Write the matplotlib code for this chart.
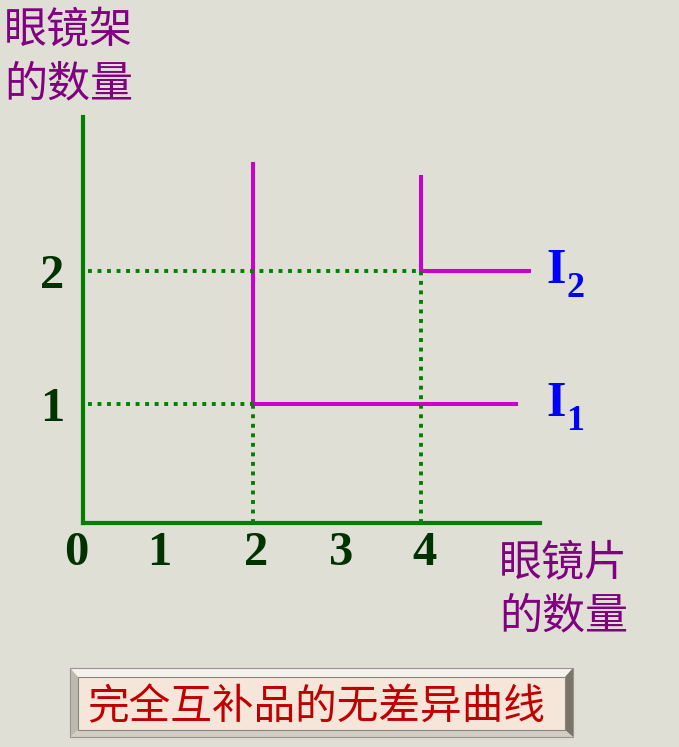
import matplotlib.pyplot as plt
from matplotlib.patches import Polygon, Rectangle

plt.rcParams['font.family'] = ['Noto Sans CJK SC', 'DejaVu Sans']

# 数据: 完全互补品 (眼镜片, 眼镜架)
x_ticks = [0, 1, 2, 3, 4]
y_ticks = [1, 2]
corner_x = [2, 4]          # 拐点处眼镜片数量
corner_y = [1, 2]          # 拐点处眼镜架数量
curve_top = [2.81, 2.71]   # 竖线上端
curve_right = [5.14, 5.29] # 横线右端
curve_subs = ['1', '2']

bg = '#DFDFD5'
green = '#008000'
tick_color = '#003300'
magenta = '#CC00CC'
purple = '#800080'

fig = plt.figure(figsize=(6.79, 7.47), dpi=100, facecolor=bg)

# 底部的立体框 (像素坐标)
ov = fig.add_axes([0, 0, 1, 1], zorder=-1)
ov.set_xlim(0, 679)
ov.set_ylim(747, 0)
ov.axis('off')
x0, x1, y0, y1 = 70, 573, 668, 737
i0, i1, j0, j1 = 78, 565, 677, 730
ov.add_patch(Polygon([(x0, y0), (x1, y0), (i1, j0), (i0, j0)], color='#F4F2EC', lw=0))
ov.add_patch(Polygon([(x0, y0), (i0, j0), (i0, j1), (x0, y1)], color='#BEB9AF', lw=0))
ov.add_patch(Polygon([(x1, y0), (x1, y1), (i1, j1), (i1, j0)], color='#7A746A', lw=0))
ov.add_patch(Polygon([(x0, y1), (i0, j1), (i1, j1), (x1, y1)], color='#D2CEC5', lw=0))
ov.add_patch(Rectangle((x0, y0), x1 - x0, y1 - y0, fill=False, ec='#9A958C', lw=0.8))
ov.add_patch(Rectangle((i0, j0), i1 - i0, j1 - j0, fc='#F6E6DA', ec='#8A857C', lw=0.8))
ov.text(316, 708, '完全互补品的无差异曲线', color='#C00000', fontsize=30,
        ha='center', va='center')

# 主图
ax = fig.add_axes([83 / 679, 1 - 523 / 747, 457 / 679, 406 / 747])
ax.set_facecolor('none')
ax.set_xlim(-0.024, 5.42)
ax.set_ylim(0.105, 3.16)
for s in ['top', 'right']:
    ax.spines[s].set_visible(False)
for s in ['left', 'bottom']:
    ax.spines[s].set_color(green)
    ax.spines[s].set_linewidth(3)
    ax.spines[s].set_capstyle('projecting')
ax.set_xticks([])
ax.set_yticks([])

# 无差异曲线 (L 形)
for cx, cy, top, right in zip(corner_x, corner_y, curve_top, curve_right):
    ax.plot([cx, cx, right], [top, cy, cy], color=magenta, lw=2.9,
            solid_joinstyle='miter', clip_on=False, zorder=3)

# 虚线
dots = (0, (1.0, 1.45))
for cx, cy in zip(corner_x, corner_y):
    ax.plot([0.04, cx], [cy, cy], color=green, lw=2.8, linestyle=dots,
            dash_capstyle='butt', zorder=4)
    ax.plot([cx, cx], [0.105, cy], color=green, lw=2.8, linestyle=dots,
            dash_capstyle='butt', zorder=4)

# 曲线名称 I1, I2
for cy, sub in zip(corner_y, curve_subs):
    ax.text(5.5, cy - 0.09, 'I', color='#0000FF', fontsize=36, family='Liberation Serif',
            fontweight='bold', ha='left', va='baseline', clip_on=False)
    ax.text(5.73, cy - 0.195, sub, color='#0000FF', fontsize=26, family='Liberation Serif',
            fontweight='bold', ha='left', va='baseline', clip_on=False)

# 刻度数字
x_label_pos = [-0.1, 0.88, 2.04, 3.05, 4.05]
for xp, t in zip(x_label_pos, x_ticks):
    ax.text(xp, -0.12, str(t), color=tick_color, fontsize=35, family='Liberation Serif',
            fontweight='bold', ha='center', va='center', clip_on=False)
for t in y_ticks:
    ax.text(-0.39, t - 0.04, str(t), color=tick_color, fontsize=35, family='Liberation Serif',
            fontweight='bold', ha='center', va='center', clip_on=False)

# 坐标轴名称
fig.text(4 / 679, 1 - 9 / 747, '眼镜架\n的数量', color=purple, fontsize=31,
         ha='left', va='top', linespacing=1.28)
fig.text(499 / 679, 1 - 541 / 747, '眼镜片\n的数量', color=purple, fontsize=31,
         ha='left', va='top', linespacing=1.28)

fig.savefig('out.png', dpi=100, facecolor=bg)
